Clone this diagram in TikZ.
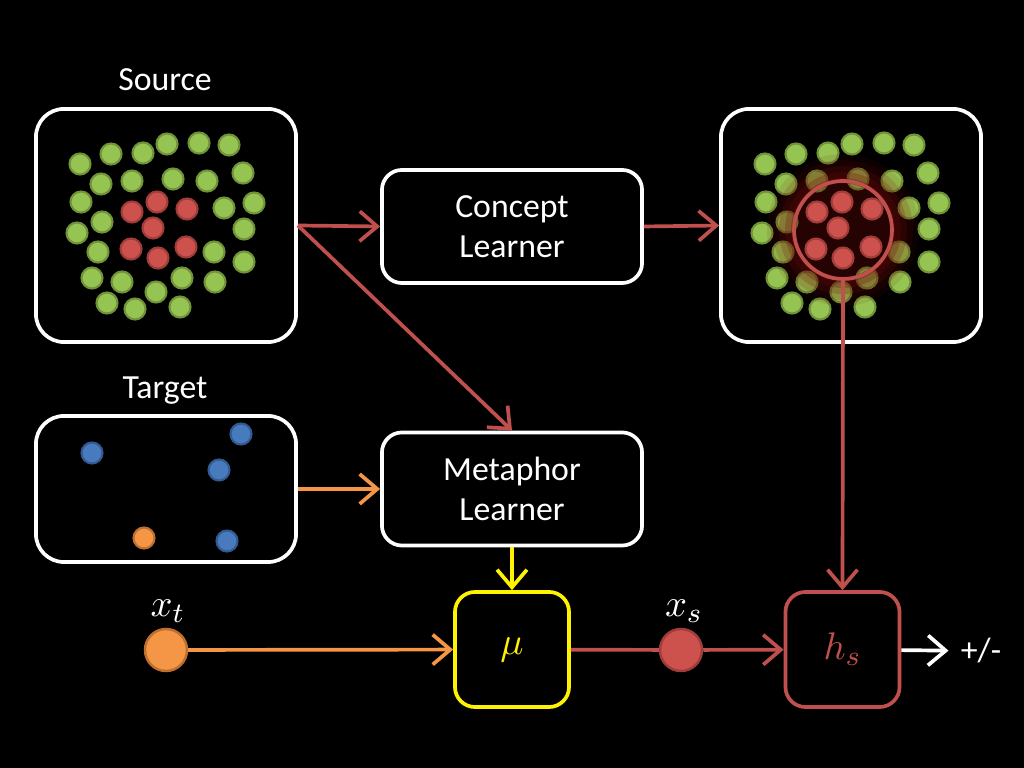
\documentclass[tikz,border=0pt]{standalone}
\usepackage{fontspec}
\setmainfont{Carlito}
\usetikzlibrary{arrows.meta}
\definecolor{dotgreen}{RGB}{150,196,82}
\definecolor{dotgreenedge}{RGB}{112,146,56}
\definecolor{dotred}{RGB}{205,82,78}
\definecolor{dotrededge}{RGB}{160,60,58}
\definecolor{dotblue}{RGB}{72,122,190}
\definecolor{dotblueedge}{RGB}{50,90,145}
\definecolor{dotorange}{RGB}{245,150,70}
\definecolor{dotorangeedge}{RGB}{190,110,45}
\definecolor{linkred}{RGB}{192,80,77}
\definecolor{glowred}{RGB}{110,10,10}
\begin{document}
\begin{tikzpicture}[x=0.01cm, y=-0.01cm,
    every node/.style={font=\fontsize{9.6}{11.4}\selectfont, text=white},
    panel/.style={draw=white, line width=1.05pt, rounded corners=0.28cm,
        minimum width=2.6cm, minimum height=2.33cm, inner sep=0pt},
    learner/.style={draw=white, line width=1.05pt, rounded corners=0.2cm,
        minimum width=2.6cm, minimum height=1.13cm, inner sep=0pt, align=center},
    opbox/.style={line width=1.05pt, rounded corners=0.2cm,
        minimum width=1.14cm, minimum height=1.15cm, inner sep=0pt},
    mathlabel/.style={font=\fontsize{11}{13}\selectfont},
    bigdot/.style={circle, line width=0.7pt, minimum size=0.42cm, inner sep=0pt},
    link/.style={line width=1.05pt, -{Straight Barb[length=5pt,width=8.5pt]}},
    gdot/.style={fill=dotgreen, draw=dotgreenedge, line width=0.6pt},
    rdot/.style={fill=dotred, draw=dotrededge, line width=0.6pt},
    bdot/.style={fill=dotblue, draw=dotblueedge, line width=0.6pt},
    odot/.style={fill=dotorange, draw=dotorangeedge, line width=0.6pt}]

    % 背景
    \fill[black] (0,0) rectangle (1024,768);
    \useasboundingbox (0,0) rectangle (1024,768);

    % 源域
    \node at (165,80) {Source};
    \node[panel] (source) at (166,225.5) {};
    \node[panel] (concepts) at (851,225.5) {};
    \foreach \s in {0,685} {
        \begin{scope}[shift={(\s,0)}]
            \foreach \x/\y in {80/164,111/154,143/153,167/144,199/143,229/145,
                101/184,132/181,173/179,207/181,243/173,81/202,102/222,77/233,
                224/208,254/203,244/229,98/252,214/252,244/262,92/278,122/282,
                182/278,215/282,156/292,107/303,135/309,180/307}
                \filldraw[gdot] (\x,\y) circle (10.5);
        \end{scope}
    }

    % 光晕
    \foreach \r/\o in {52/0.3,58/0.25,64/0.2,70/0.15,76/0.1}
        \fill[glowred, opacity=\o, even odd rule] (843,230) circle (\r) circle (47);
    \fill[glowred, opacity=0.35] (843,230) circle (47);

    \foreach \s in {0,685} {
        \begin{scope}[shift={(\s,0)}]
            \foreach \x/\y in {132/212,157/202,187/209,153/228,131/249,186/247,158/258}
                \filldraw[rdot] (\x,\y) circle (10.5);
        \end{scope}
    }
    \node[circle, draw=linkred, line width=1.05pt, minimum size=0.98cm, inner sep=0pt]
        (ring) at (843,230) {};

    % 目标域
    \node at (165,391) {Target};
    \node[panel, minimum height=1.46cm] (target) at (166,489) {};
    \filldraw[bdot] (92,453) circle (10.5);
    \filldraw[bdot] (241,434) circle (10.5);
    \filldraw[bdot] (219,470) circle (10.5);
    \filldraw[bdot] (227,541) circle (10.5);
    \filldraw[odot] (144,538) circle (10.5);

    % 学习器
    \node[learner] (concept) at (512,226.5) {Concept\\Learner};
    \node[learner] (metaphor) at (512,489) {Metaphor\\Learner};

    % 映射与分类
    \node[opbox, draw=yellow, text=yellow, mathlabel] (mu) at (512,649.5) {$\mu$};
    \node[opbox, draw=linkred, text=linkred, mathlabel] (hs) at (842.5,649.5) {$h_s$};
    \node[bigdot, fill=dotorange, draw=dotorangeedge] (xt) at (166,650) {};
    \node[mathlabel] at (168,611) {$x_t$};
    \node[bigdot, fill=dotred, draw=dotrededge] (xs) at (681,650) {};
    \node[mathlabel] at (684,611) {$x_s$};
    \node (pm) at (981,651) {+/-};

    % 连线
    \draw[link, linkred] (source.east) -- (concept.west);
    \draw[link, linkred] (source.east) -- (metaphor.north);
    \draw[link, linkred] (concept.east) -- (concepts.west);
    \draw[link, dotorange] (target.east) -- (metaphor.west);
    \draw[link, yellow] (metaphor.south) -- (mu.north);
    \draw[link, dotorange] (xt) -- (mu);
    \draw[line width=1.05pt, linkred] (mu) -- (xs);
    \draw[link, linkred] (xs) -- (hs);
    \draw[link, linkred] (ring.south) -- (hs.north);
    \draw[link, white] (hs) -- (pm);
\end{tikzpicture}
\end{document}
